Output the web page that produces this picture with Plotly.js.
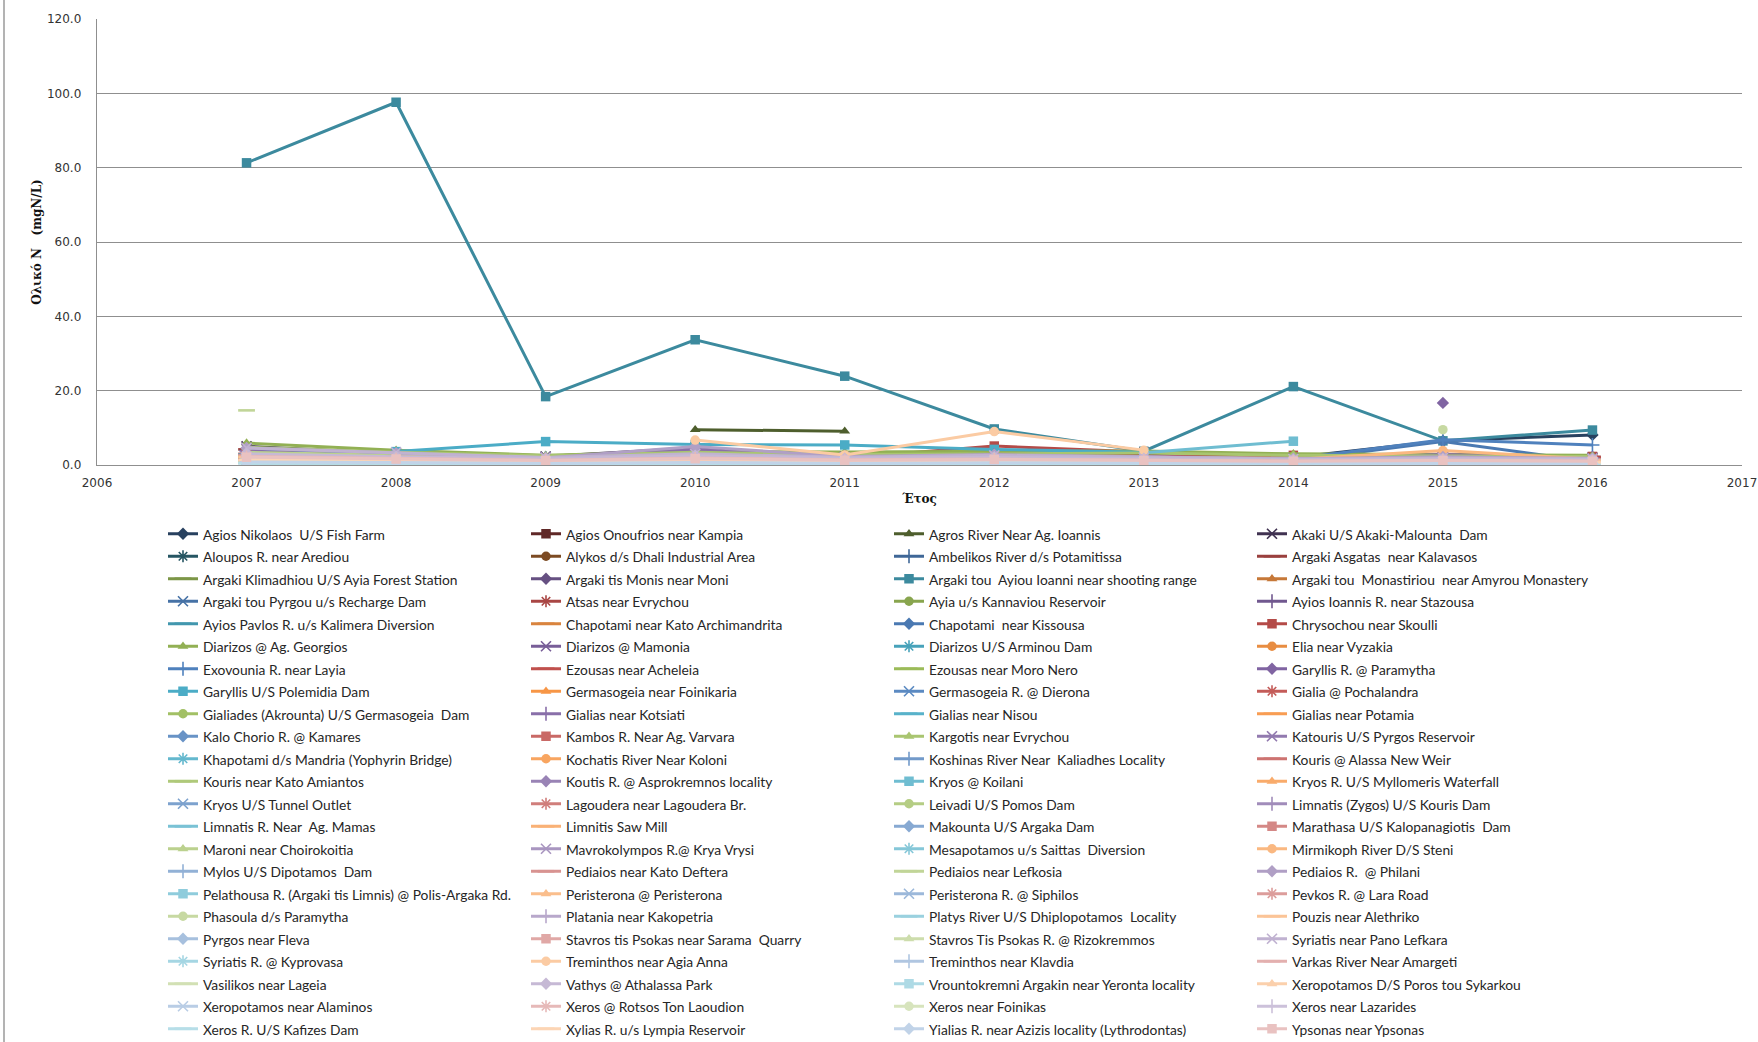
<!DOCTYPE html>
<html>
<head>
<meta charset="utf-8">
<script src="https://cdn.plot.ly/plotly-3.0.1.min.js"></script>
<style>
  html, body { margin: 0; padding: 0; background: #fff; }
  #chart { width: 1758px; height: 1042px; }
</style>
</head>
<body>
<div id="chart"></div>
<script>
// Total nitrogen (mgN/L) per monitoring station, 2007-2016
const years = [2007, 2008, 2009, 2010, 2011, 2012, 2013, 2014, 2015, 2016];

const stations = [
  "Agios Nikolaos  U/S Fish Farm", "Agios Onoufrios near Kampia", "Agros River Near Ag. Ioannis", "Akaki U/S Akaki-Malounta  Dam",
  "Aloupos R. near Arediou", "Alykos d/s Dhali Industrial Area", "Ambelikos River d/s Potamitissa", "Argaki Asgatas  near Kalavasos",
  "Argaki Klimadhiou U/S Ayia Forest Station", "Argaki tis Monis near Moni", "Argaki tou  Ayiou Ioanni near shooting range", "Argaki tou  Monastiriou  near Amyrou Monastery",
  "Argaki tou Pyrgou u/s Recharge Dam", "Atsas near Evrychou", "Ayia u/s Kannaviou Reservoir", "Ayios Ioannis R. near Stazousa",
  "Ayios Pavlos R. u/s Kalimera Diversion", "Chapotami near Kato Archimandrita", "Chapotami  near Kissousa", "Chrysochou near Skoulli",
  "Diarizos @ Ag. Georgios", "Diarizos @ Mamonia", "Diarizos U/S Arminou Dam", "Elia near Vyzakia",
  "Exovounia R. near Layia", "Ezousas near Acheleia", "Ezousas near Moro Nero", "Garyllis R. @ Paramytha",
  "Garyllis U/S Polemidia Dam", "Germasogeia near Foinikaria", "Germasogeia R. @ Dierona", "Gialia @ Pochalandra",
  "Gialiades (Akrounta) U/S Germasogeia  Dam", "Gialias near Kotsiati", "Gialias near Nisou", "Gialias near Potamia",
  "Kalo Chorio R. @ Kamares", "Kambos R. Near Ag. Varvara", "Kargotis near Evrychou", "Katouris U/S Pyrgos Reservoir",
  "Khapotami d/s Mandria (Yophyrin Bridge)", "Kochatis River Near Koloni", "Koshinas River Near  Kaliadhes Locality", "Kouris @ Alassa New Weir",
  "Kouris near Kato Amiantos", "Koutis R. @ Asprokremnos locality", "Kryos @ Koilani", "Kryos R. U/S Myllomeris Waterfall",
  "Kryos U/S Tunnel Outlet", "Lagoudera near Lagoudera Br.", "Leivadi U/S Pomos Dam", "Limnatis (Zygos) U/S Kouris Dam",
  "Limnatis R. Near  Ag. Mamas", "Limnitis Saw Mill", "Makounta U/S Argaka Dam", "Marathasa U/S Kalopanagiotis  Dam",
  "Maroni near Choirokoitia", "Mavrokolympos R.@ Krya Vrysi", "Mesapotamos u/s Saittas  Diversion", "Mirmikoph River D/S Steni",
  "Mylos U/S Dipotamos  Dam", "Pediaios near Kato Deftera", "Pediaios near Lefkosia", "Pediaios R.  @ Philani",
  "Pelathousa R. (Argaki tis Limnis) @ Polis-Argaka Rd.", "Peristerona @ Peristerona", "Peristerona R. @ Siphilos", "Pevkos R. @ Lara Road",
  "Phasoula d/s Paramytha", "Platania near Kakopetria", "Platys River U/S Dhiplopotamos  Locality", "Pouzis near Alethriko",
  "Pyrgos near Fleva", "Stavros tis Psokas near Sarama  Quarry", "Stavros Tis Psokas R. @ Rizokremmos", "Syriatis near Pano Lefkara",
  "Syriatis R. @ Kyprovasa", "Treminthos near Agia Anna", "Treminthos near Klavdia", "Varkas River Near Amargeti",
  "Vasilikos near Lageia", "Vathys @ Athalassa Park", "Vrountokremni Argakin near Yeronta locality", "Xeropotamos D/S Poros tou Sykarkou",
  "Xeropotamos near Alaminos", "Xeros @ Rotsos Ton Laoudion", "Xeros near Foinikas", "Xeros near Lazarides",
  "Xeros R. U/S Kafizes Dam", "Xylias R. u/s Lympia Reservoir", "Yialias R. near Azizis locality (Lythrodontas)", "Ypsonas near Ypsonas"
];

// One value per station (same order as above) for each year; null = not sampled
const n2007 = [3.2, 3.6, null, 5.0, 2.4, 2.9,  1.1, 4.2, 1.0, 1.8, 81.3, 2.6,  2.0, 1.6, 1.3, 0.9, 2.2, 1.4,
  2.7, 3.3, 5.9, 4.4, 1.2, 1.9,  3.9, 3.0, 2.1, null, null, 2.3,  1.5, 2.5, 1.7, 3.8, 2.8, 1.2,
  1.4, 2.8, 4.8, 1.1, 1.8, 0.8,  2.2, 1.5, 0.9, 1.3, null, 1.0,  0.7, 0.9, 2.0, 1.6, 1.0, 0.6,
  1.9, 1.2, 3.4, 1.4, 0.8, 2.5,  1.6, 2.6, 14.7, 4.6, 1.3, 1.8,  1.1, 0.7, null, 0.6, 0.5, 2.2,
  1.2, 0.9, 0.8, 4.6, 1.0, null,  1.5, 1.1, 0.7, 3.0, 0.6, 1.7,  1.3, 2.3, 1.9, 0.9, 0.5, 1.4,  0.8, 2.1];
const n2008 = [2.1, 2.4, null, 3.1, 1.6, 2.2,  0.9, 3.0, 0.7, 1.3, 97.6, 1.9,  1.5, 1.2, 0.9, 0.6, 1.7, 1.0,
  1.8, 2.3, 4.0, 2.8, 0.9, 1.4,  2.6, 2.5, 1.6, null, 3.6, 1.9,  1.1, 1.8, 1.2, 2.2, 2.0, 0.9,
  1.0, 2.0, 3.4, 0.8, 1.3, 0.6,  1.6, 1.1, 0.7, 1.0, null, 0.8,  0.5, 0.7, 1.5, 1.2, 0.8, 0.5,
  1.3, 0.9, 2.6, 1.0, 0.6, 1.9,  1.2, 2.1, null, 3.2, 1.0, 1.4,  0.8, 0.5, null, 0.5, 0.4, 1.7,
  0.9, 0.7, 0.6, 3.4, 0.8, null,  1.1, 0.8, 0.6, 2.2, 0.5, 1.3,  1.0, 1.7, 1.4, 0.7, 0.4, 1.0,  0.6, 1.6];
const n2009 = [1.6, 1.8, null, 2.3, 1.2, 1.9,  0.6, 2.0, 0.5, 1.0, 18.4, 1.5,  1.1, 0.9, 0.7, 0.5, 1.4, 0.8,
  1.4, 1.7, 2.6, 2.1, 0.7, 1.1,  1.9, 1.9, 1.3, null, 6.3, 1.5,  0.8, 1.3, 0.9, 1.6, 1.6, 0.7,
  0.8, 1.5, 2.5, 0.6, 1.0, 0.5,  1.2, 0.8, 0.5, 0.7, null, 0.6,  0.4, 0.5, 1.2, 0.9, 0.6, 0.4,
  1.0, 0.7, 2.0, 0.8, 0.5, 1.6,  0.9, 1.7, null, 1.9, 0.8, 1.1,  0.6, 0.4, null, 0.4, 0.3, 1.3,
  0.7, 0.5, 0.5, 2.0, 0.6, null,  0.9, 0.6, 0.4, 1.7, 0.4, 1.0,  0.8, 1.3, 1.1, 0.5, 0.3, 0.8,  0.5, 1.2];
const n2010 = [2.4, 2.2, 9.5, 4.6, 1.7, 2.6,  0.8, 2.9, 0.9, 1.5, 33.7, 2.3,  1.6, 1.4, 1.1, 0.8, 2.0, 1.2,
  2.0, 2.6, 3.6, 3.2, 1.0, 1.6,  2.8, 2.5, 1.8, null, 5.5, 1.9,  1.2, 2.0, 1.4, 4.3, 2.2, 1.0,
  1.1, 2.1, 3.4, 0.9, 1.4, 0.7,  1.7, 1.2, 0.8, 1.1, null, 0.8,  0.6, 0.7, 1.6, 1.3, 0.8, 0.5,
  1.5, 1.0, 2.6, 1.1, 0.7, 2.2,  1.3, 2.4, null, 5.0, 1.1, 1.5,  0.9, 0.6, null, 0.5, 0.4, 1.8,
  1.0, 0.8, 0.7, 3.0, 0.8, 6.7,  1.2, 0.9, 0.6, 2.5, 0.5, 1.4,  1.1, 1.9, 1.5, 0.7, 0.4, 1.1,  0.7, 1.7];
const n2011 = [1.5, 1.6, 9.1, 2.0, 1.3, 1.8,  0.7, 2.2, 0.6, 1.1, 23.9, 1.7,  1.2, 1.0, 0.8, 0.6, 1.5, 0.9,
  1.4, 1.9, 3.5, 2.2, 0.8, 1.2,  2.0, 2.0, 1.4, null, 5.4, 1.5,  0.9, 1.5, 1.0, 1.7, 1.6, 0.8,
  0.8, 1.6, 2.8, 0.7, 1.1, 0.5,  1.3, 0.9, 0.6, 0.8, null, 0.6,  0.5, 0.6, 1.3, 1.0, 0.6, 0.4,
  1.1, 0.8, 2.1, 0.8, 0.5, 1.7,  1.0, 1.8, null, 2.3, 0.8, 1.1,  0.7, 0.5, null, 0.4, 0.3, 1.4,
  0.8, 0.6, 0.5, 2.1, 0.6, 2.7,  0.9, 0.7, 0.5, 1.8, 0.4, 1.0,  0.8, 1.4, 1.1, 0.6, 0.3, 0.9,  0.5, 1.3];
const n2012 = [1.9, 2.8, null, 3.0, 1.5, 2.1,  1.0, 3.3, 0.7, 1.4, 9.7, 2.0,  1.3, 1.2, 1.0, 0.7, 1.8, 1.1,
  1.7, 5.1, 3.7, 2.7, 0.9, 1.4,  2.5, 2.9, 1.6, null, 4.2, 1.8,  1.0, 1.9, 1.2, 2.6, 1.9, 0.9,
  1.0, 2.4, 3.1, 0.8, 1.3, 0.6,  1.5, 1.1, 0.7, 0.9, null, 0.7,  0.5, 0.7, 1.5, 1.2, 0.7, 0.5,
  1.3, 0.9, 2.5, 1.0, 0.6, 2.0,  1.1, 2.2, null, 2.8, 1.0, 1.3,  0.8, 0.5, null, 0.5, 0.4, 1.6,
  0.9, 0.7, 0.6, 2.6, 0.7, 9.0,  1.1, 0.8, 0.5, 2.1, 0.4, 1.2,  1.0, 1.6, 1.3, 0.6, 0.4, 1.0,  0.6, 1.5];
const n2013 = [1.4, 2.0, null, 2.6, 1.2, 1.7,  0.6, 2.5, 0.5, 1.2, 3.7, 1.6,  1.1, 0.9, 0.8, 0.5, 1.4, 0.9,
  1.3, 3.5, 3.8, 2.1, 0.7, 1.1,  1.9, 2.3, 1.3, null, 3.4, 1.4,  0.8, 1.5, 1.0, 2.2, 1.5, 0.7,
  0.8, 1.8, 3.2, 0.6, 1.0, 0.5,  1.2, 0.9, 0.5, 0.8, 3.3, 0.6,  0.4, 0.5, 1.2, 0.9, 0.6, 0.4,
  1.0, 0.7, 2.1, 0.8, 0.5, 1.7,  0.9, 1.8, null, 2.3, 0.8, 1.1,  0.6, 0.4, null, 0.4, 0.3, 1.3,
  0.7, 0.5, 0.5, 2.0, 0.6, 4.0,  0.9, 0.6, 0.4, 1.7, 0.3, 1.0,  0.8, 1.3, 1.1, 0.5, 0.3, 0.8,  0.5, 1.2];
const n2014 = [2.0, 1.5, null, 1.8, 1.0, 1.9,  0.5, 2.1, 0.4, 0.9, 21.1, 1.3,  0.9, 0.8, 0.6, 0.4, 1.2, 0.7,
  1.2, 2.6, 3.0, 1.7, 0.6, 0.9,  1.6, 2.0, 1.1, null, null, 1.2,  0.7, 1.3, 0.8, 1.5, 1.3, 0.6,
  1.9, 1.4, 2.6, 0.5, 0.9, 0.4,  1.0, 0.7, 0.4, 0.6, 6.4, 0.5,  0.3, 0.4, 1.0, 0.8, 0.5, 0.3,
  0.9, 0.6, 1.8, 0.7, 0.4, 1.5,  0.8, 1.5, null, 1.7, 0.7, 0.9,  0.5, 0.4, null, 0.3, 0.3, 1.1,
  0.6, 0.4, 0.4, 1.6, 0.5, null,  0.7, 0.5, 0.4, 1.4, 0.3, 0.8,  0.6, 1.1, 0.9, 0.4, 0.3, 0.7,  0.4, 1.0];
const n2015 = [6.5, 1.8, null, 2.2, 1.1, 2.0,  0.8, 2.4, 0.6, 1.3, 6.5, 1.5,  1.0, 0.9, 0.8, 0.6, 1.4, 0.8,
  6.3, 2.9, 2.7, 2.0, 0.7, 1.1,  6.8, 2.2, 1.3, 16.7, null, 1.4,  0.8, 1.5, 1.0, 2.8, 1.5, 0.7,
  1.2, 1.6, 2.4, 0.6, 1.0, 0.5,  1.2, 0.8, 0.5, 0.7, null, 0.6,  0.4, 0.5, 1.2, 0.9, 0.6, 0.4,
  1.1, 0.7, 2.0, 0.8, 0.5, 3.9,  0.9, 1.7, null, 2.2, 0.8, 1.0,  0.6, 0.4, 9.5, 0.4, 0.3, 1.3,
  0.7, 0.5, 0.5, 1.9, 0.6, null,  0.9, 0.6, 0.4, 1.6, 0.4, 1.0,  0.8, 1.3, 1.1, 0.5, 0.3, 0.8,  0.5, 1.2];
const n2016 = [8.1, 1.6, null, 2.0, 0.9, 1.7,  0.6, 2.2, 0.5, 1.1, 9.4, 1.4,  0.8, 0.8, 0.7, 0.5, 1.3, 0.7,
  0.9, 2.3, 2.6, 1.8, 0.6, 1.0,  5.4, 2.0, 1.2, null, null, 1.2,  0.7, 1.3, 0.8, 1.9, 1.4, 0.6,
  1.0, 1.4, 2.3, 0.5, 0.9, 0.4,  1.1, 0.7, 0.4, 0.6, null, 0.5,  0.4, 0.5, 1.0, 0.8, 0.5, 0.3,
  0.9, 1.5, 1.8, 0.7, 0.4, 1.6,  0.8, 1.5, null, 1.8, 0.7, 0.9,  0.5, 0.4, null, 0.3, 0.3, 1.2,
  0.6, 0.5, 0.4, 1.7, 0.5, null,  0.8, 0.5, 0.4, 1.5, 0.3, 0.9,  0.7, 1.1, 0.9, 0.4, 0.3, 0.7,  0.4, 1.0];

const yearColumns = [n2007, n2008, n2009, n2010, n2011, n2012, n2013, n2014, n2015, n2016];

// Office-style accent palette, stepped from dark to light across the station list
const accents = [[79,129,189],[192,80,77],[155,187,89],[128,100,162],[75,172,198],[247,150,70]];
const shadeSteps = [-0.5,-0.2,-0.12,-0.06,0,0.07,0.14,0.2,0.26,0.32,0.38,0.44,0.5,0.55,0.6,0.65];
const markerCycle = ['diamond','square','triangle-up','x-thin-open','asterisk-open','circle','cross-thin-open','line-ew-open','line-ew-open'];

function shade(rgb, s) {
  const c = rgb.map(v => Math.round(s < 0 ? v * (1 + s) : v + (255 - v) * s));
  return 'rgb(' + c.join(',') + ')';
}

const traces = stations.map((name, i) => {
  const col = shade(accents[i % 6], shadeSteps[Math.floor(i / 6)]);
  const sym = markerCycle[i % 9];
  const thin = sym.indexOf('open') >= 0;
  return {
    type: 'scatter',
    mode: 'lines+markers',
    name: '<span style="font-size:13.8px">' + name + '</span>',
    x: years,
    y: yearColumns.map(c => c[i]),
    connectgaps: false,
    line: { color: col, width: 3 },
    marker: {
      symbol: sym,
      color: col,
      size: sym === 'line-ew-open' ? 12 : (thin ? 10 : 9.5),
      line: { color: col, width: thin ? (sym === 'line-ew-open' ? 2.6 : 1.6) : 0 }
    }
  };
});

const gridGray = '#8f8f8f';

const layout = {
  width: 1758,
  height: 1042,
  paper_bgcolor: '#ffffff',
  plot_bgcolor: '#ffffff',
  margin: { l: 97, r: 16, t: 19, b: 577 },
  showlegend: true,
  font: { family: 'DejaVu Sans, sans-serif', size: 12, color: '#333333' },
  xaxis: {
    range: [2006, 2017],
    tickmode: 'linear', tick0: 2006, dtick: 1,
    showgrid: false, zeroline: false,
    showline: true, linecolor: gridGray, linewidth: 1.3,
    ticks: '', ticklabelstandoff: 6, ticklabeloverflow: 'allow',
    tickfont: { family: 'DejaVu Sans, sans-serif', size: 12, color: '#333333' },
    title: { text: 'Έτος', standoff: 6, font: { family: 'DejaVu Serif, serif', size: 12, color: '#111111', weight: 'bold' } }
  },
  yaxis: {
    range: [0, 120],
    tickmode: 'linear', tick0: 0, dtick: 20, tickformat: '.1f',
    showgrid: true, gridcolor: gridGray, gridwidth: 1,
    zeroline: false,
    showline: true, linecolor: gridGray, linewidth: 1.3,
    ticks: '', ticklabelstandoff: 12,
    tickfont: { family: 'DejaVu Sans, sans-serif', size: 12, color: '#333333' },
    title: { text: 'Ολικό Ν   (mgN/L)', standoff: 2, font: { family: 'DejaVu Serif, serif', size: 12, color: '#111111', weight: 'bold' } }
  },
  legend: {
    orientation: 'h',
    xref: 'container', yref: 'container',
    x: 163 / 1758, xanchor: 'left',
    y: 1 - 781.5 / 1042, yanchor: 'middle',
    entrywidth: 318, entrywidthmode: 'pixels',
    itemwidth: 30,
    maxheight: 560,
    traceorder: 'normal',
    font: { family: 'Lato, sans-serif', size: 15, color: '#262626' },
    bgcolor: 'rgba(0,0,0,0)'
  },
  shapes: [
    { type: 'line', xref: 'paper', yref: 'paper', x0: -93 / 1645, x1: -93 / 1645, y0: -577 / 446, y1: 465 / 446,
      line: { color: '#9a9a9a', width: 1.5 } }
  ]
};

Plotly.newPlot('chart', traces, layout, { displayModeBar: false, staticPlot: true });
</script>
</body>
</html>
